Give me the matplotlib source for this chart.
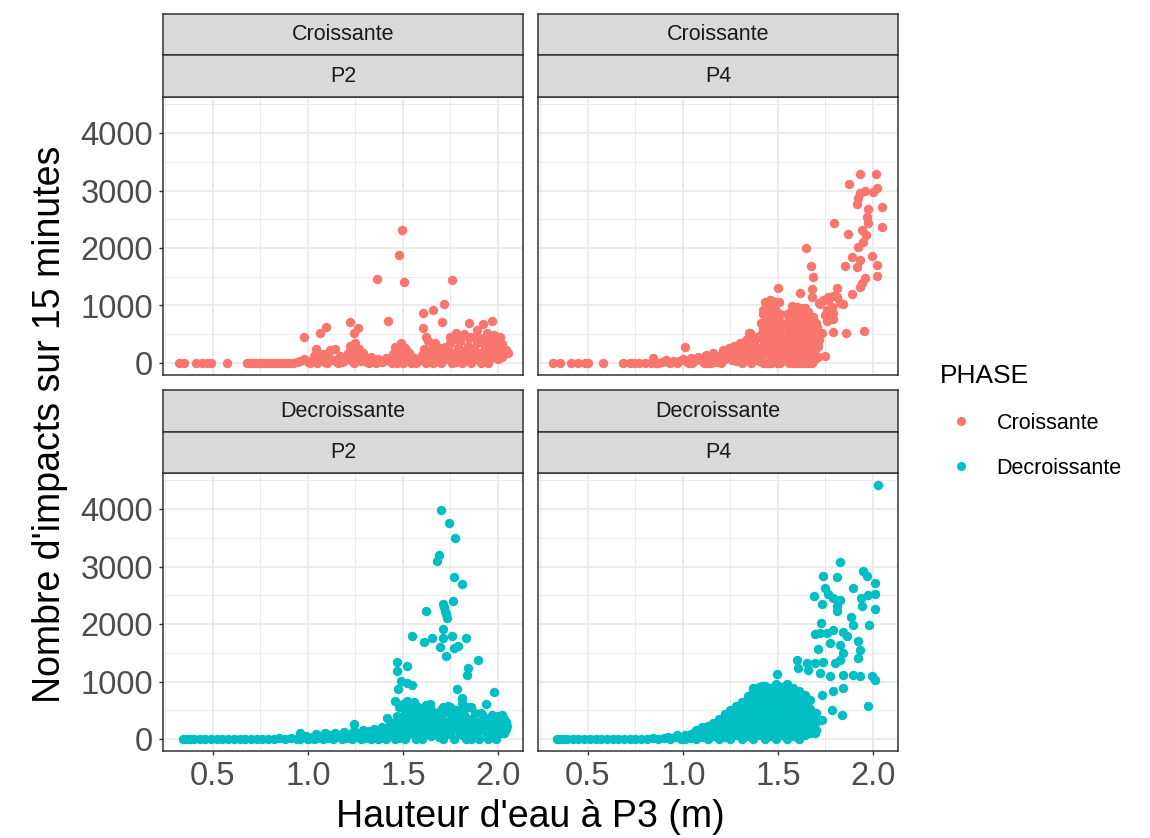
"""
Faceted scatter: number of impacts (15 min) vs water height at P3,
split by PHASE (Croissante / Decroissante) and station (P2 / P4).
Looks like a ggplot theme_bw facet_wrap, rebuilt with matplotlib.
"""

import matplotlib
matplotlib.use("Agg")
import matplotlib.pyplot as plt
from matplotlib.lines import Line2D

plt.rcParams['font.family'] = ['Liberation Sans', 'DejaVu Sans']

# ----------------------------------------------------------------
# Data: (water height m, impacts per 15 min)
# ----------------------------------------------------------------
crois_p2 = [
    (0.32, 0), (0.35, 0), (0.41, 0), (0.44, 0), (0.47, 0), (0.49, 0), (0.575, 0),
    (0.68, 0), (0.70, 0), (0.72, 0), (0.74, 0), (0.76, 0), (0.78, 0), (0.80, 0),
    (0.82, 0), (0.84, 0), (0.86, 0), (0.88, 0), (0.90, 0), (0.92, 0), (0.94, 10),
    (0.96, 30), (0.98, 70), (1.00, 15), (1.02, 50), (1.03, 120), (1.045, 250),
    (1.06, 60), (1.08, 150), (1.09, 20), (1.11, 90), (1.115, 230), (1.14, 250),
    (1.15, 40), (1.17, 120), (1.18, 10), (1.20, 80), (1.21, 180), (1.22, 300),
    (1.23, 30), (1.245, 200), (1.25, 340), (1.26, 120), (1.27, 250), (1.28, 40),
    (1.29, 180), (1.30, 70), (1.31, 20), (1.33, 100), (1.35, 30), (1.37, 60),
    (1.39, 10), (1.41, 90), (1.43, 40), (1.45, 150), (1.46, 280), (1.47, 60),
    (1.48, 200), (1.49, 20), (1.50, 120), (1.51, 260), (1.52, 50), (1.53, 180),
    (1.55, 20), (1.56, 90), (1.58, 30), (1.60, 130), (1.61, 250), (1.62, 60),
    (1.63, 380), (1.64, 180), (1.65, 20), (1.66, 300), (1.67, 100), (1.68, 220),
    (1.69, 40), (1.70, 150), (1.72, 280), (1.73, 60), (1.74, 200), (1.75, 350),
    (1.76, 120), (1.77, 420), (1.78, 20), (1.79, 260), (1.80, 380), (1.81, 100),
    (1.82, 200), (1.83, 50), (1.84, 300), (1.85, 440), (1.86, 150), (1.87, 250),
    (1.88, 60), (1.89, 340), (1.90, 430), (1.91, 180), (1.92, 100), (1.93, 280),
    (1.94, 380), (1.95, 220), (1.96, 60), (1.97, 320), (1.98, 160), (1.99, 400),
    (2.00, 250), (2.01, 100), (2.02, 330), (2.03, 180), (2.04, 220),
    (1.01, 0), (1.05, 0), (1.07, 100), (1.10, 0), (1.13, 50), (1.16, 0), (1.19, 30),
    (1.24, 0), (1.27, 80), (1.32, 0), (1.36, 0), (1.40, 40), (1.44, 0), (1.47, 0),
    (1.50, 0), (1.54, 0), (1.57, 0), (1.59, 60), (1.62, 0), (1.66, 0), (1.70, 0),
    (1.71, 80), (1.73, 180), (1.76, 0), (1.78, 150), (1.81, 0), (1.84, 100),
    (1.86, 0), (1.88, 200), (1.91, 0), (1.93, 120), (1.95, 0), (1.97, 150),
    (2.00, 60), (2.02, 100), (1.45, 50), (1.48, 100), (1.52, 200), (1.23, 120),
    (1.26, 230), (1.29, 60), (1.21, 60), (1.47, 240), (1.49, 300), (1.65, 200),
    (1.63, 120), (1.67, 350), (1.69, 260), (1.82, 500), (1.86, 450), (1.92, 420),
    (1.98, 480), (2.01, 450), (1.80, 230),
    (1.493, 2320), (1.481, 1880), (1.505, 1415), (1.361, 1465), (1.760, 1445),
    (1.716, 1025), (1.660, 920), (1.604, 865), (1.419, 735), (1.221, 720),
    (1.265, 615), (1.095, 620), (1.063, 525), (1.244, 515), (0.979, 455),
    (1.705, 710), (1.607, 615), (1.619, 455), (1.847, 690), (1.923, 680),
    (1.970, 735), (1.888, 575), (1.488, 345), (1.779, 515), (1.747, 455),
    (1.940, 515), (1.975, 455), (2.028, 225), (2.054, 175),
]

crois_p4 = [
    (0.316, 0), (0.351, 0), (0.412, 0), (0.447, 0), (0.483, 0), (0.500, 0), (0.579, 0),
    (0.684, 0), (0.719, 0), (0.74, 0), (0.77, 0), (0.80, 0), (0.83, 0), (0.842, 80),
    (0.86, 0), (0.89, 10), (0.92, 20), (0.95, 30), (0.98, 40), (1.00, 60), (1.009, 283),
    (1.02, 20), (1.04, 80), (1.06, 30), (1.08, 100), (1.10, 50), (1.12, 140),
    (1.14, 70), (1.16, 180), (1.18, 20), (1.19, 120), (1.21, 220), (1.22, 60),
    (1.24, 260), (1.25, 150), (1.27, 300), (1.28, 40), (1.29, 200), (1.30, 350),
    (1.31, 100), (1.32, 280), (1.33, 400), (1.34, 150), (1.35, 520), (1.36, 300),
    (1.37, 50), (1.38, 420), (1.39, 200), (1.40, 30), (1.353, 516), (1.361, 370),
    (1.15, 0), (1.20, 0), (1.23, 120), (1.26, 50), (1.28, 180), (1.31, 0),
    (1.33, 230), (1.35, 100), (1.36, 0), (1.38, 300), (1.39, 450), (1.37, 200),
    (1.34, 320), (1.30, 150), (1.26, 250), (1.22, 150), (1.13, 0), (1.17, 100),
    (1.11, 0), (1.07, 50), (1.03, 0), (1.05, 0), (0.97, 0), (0.93, 0), (0.91, 50),
    (0.87, 0),
    # left cluster
    (1.432, 1066), (1.458, 1096), (1.484, 1038), (1.423, 922), (1.467, 864),
    (1.502, 806), (1.440, 748), (1.493, 661), (1.458, 574), (1.511, 516),
    (1.414, 516), (1.475, 400), (1.423, 283), (1.493, 226), (1.405, 110),
    (1.458, 52), (1.44, 300), (1.47, 150), (1.50, 380), (1.41, 700), (1.45, 980),
    (1.49, 900), (1.52, 700), (1.51, 100), (1.43, 420), (1.48, 620), (1.505, 1066),
    (1.484, 1066),
    (1.42, 0), (1.42, 150), (1.42, 400), (1.42, 600), (1.42, 850),
    (1.45, 0), (1.45, 200), (1.45, 450), (1.45, 700), (1.45, 850),
    (1.48, 50), (1.48, 300), (1.48, 500), (1.48, 750), (1.48, 1000),
    (1.51, 0), (1.51, 250), (1.51, 600), (1.51, 850),
    (1.415, 250), (1.435, 550), (1.455, 350), (1.465, 750), (1.475, 950),
    (1.495, 450), (1.505, 200), (1.515, 350), (1.435, 0), (1.465, 0), (1.495, 0),
    (1.525, 150), (1.525, 450), (1.47, 1080), (1.44, 1040),
    # right cluster
    (1.598, 980), (1.633, 951), (1.660, 893), (1.686, 806), (1.616, 806),
    (1.581, 748), (1.651, 690), (1.686, 632), (1.554, 632), (1.607, 574),
    (1.660, 516), (1.563, 457), (1.633, 400), (1.686, 370), (1.581, 283),
    (1.651, 255), (1.546, 168), (1.616, 110), (1.668, 82), (1.572, 23),
    (1.642, 0), (1.53, 300), (1.54, 80), (1.60, 450), (1.62, 200), (1.64, 700),
    (1.70, 500), (1.57, 880),
    (1.56, 0), (1.56, 300), (1.56, 550), (1.56, 750),
    (1.59, 100), (1.59, 350), (1.59, 600), (1.59, 850),
    (1.62, 0), (1.62, 300), (1.62, 650), (1.62, 900),
    (1.65, 100), (1.65, 400), (1.65, 600), (1.65, 800),
    (1.68, 0), (1.68, 250), (1.68, 500), (1.68, 700),
    (1.71, 100), (1.71, 300),
    (1.555, 400), (1.565, 150), (1.575, 650), (1.585, 500), (1.595, 200),
    (1.605, 700), (1.615, 400), (1.625, 550), (1.635, 150), (1.635, 800),
    (1.645, 450), (1.655, 350), (1.665, 650), (1.675, 450), (1.685, 150),
    (1.695, 250), (1.70, 700), (1.61, 950), (1.645, 950), (1.58, 0), (1.60, 0),
    (1.66, 0), (1.69, 50), (1.55, 850),
    # scattered high values
    (1.604, 12), (1.747, 127), (1.791, 544), (1.856, 516), (1.953, 556),
    (1.791, 759), (1.756, 730), (1.717, 1038), (1.765, 1096), (1.809, 1299),
    (1.844, 1026), (1.809, 1153), (1.888, 1200), (1.932, 1327), (1.958, 1473),
    (1.940, 1386), (2.019, 1513), (2.023, 1704), (1.993, 1861), (1.891, 1849),
    (1.914, 1675), (1.853, 1692), (1.932, 1791), (1.923, 2023), (1.949, 2110),
    (1.962, 2226), (1.867, 2238), (1.940, 2313), (1.975, 2429), (1.967, 2545),
    (1.975, 2673), (1.914, 2760), (1.923, 2864), (1.932, 2951), (1.958, 2997),
    (2.002, 2980), (2.019, 3038), (2.046, 2708), (2.046, 2371), (1.796, 2440),
    (1.874, 3113), (1.932, 3287), (2.016, 3287), (1.502, 1310), (1.616, 1223),
    (1.572, 997), (1.646, 2005), (1.674, 1687), (1.686, 1501), (1.677, 1287),
    (1.677, 1153), (1.721, 1026), (1.738, 1096), (1.765, 1153), (1.791, 1165),
    (1.826, 1038), (1.756, 922), (1.782, 980), (1.747, 835), (1.791, 864),
    (1.717, 400), (1.730, 516), (1.704, 632), (1.704, 283), (1.677, 168),
]

decr_p2 = [
    (0.34, 0), (0.36, 0), (0.38, 0), (0.40, 0), (0.43, 0), (0.46, 0), (0.49, 0),
    (0.52, 0), (0.55, 0), (0.58, 0), (0.61, 0), (0.64, 0), (0.67, 0), (0.70, 0),
    (0.73, 0), (0.76, 0), (0.79, 0), (0.82, 0), (0.85, 10), (0.88, 0), (0.91, 20),
    (0.94, 0), (0.956, 100), (0.97, 30), (1.00, 0), (1.02, 40), (1.05, 10),
    (1.07, 50), (1.10, 20), (1.12, 60), (1.15, 30), (1.17, 70), (1.20, 10),
    (1.22, 90), (1.240, 262), (1.25, 40), (1.27, 110), (1.30, 20), (1.32, 130),
    (1.34, 60), (1.36, 160), (1.38, 20), (1.40, 100), (1.414, 361), (1.42, 200),
    (1.44, 50), (1.45, 250), (1.46, 130), (1.47, 400), (1.48, 20), (1.49, 300),
    (1.50, 150), (1.51, 450), (1.52, 60), (1.53, 250), (1.54, 380), (1.55, 100),
    (1.56, 520), (1.57, 200), (1.58, 30), (1.59, 350), (1.60, 150), (1.61, 450),
    (1.62, 80), (1.63, 250), (1.64, 600), (1.65, 350), (1.66, 120), (1.67, 450),
    (1.68, 250), (1.69, 30), (1.70, 380), (1.71, 550), (1.72, 150), (1.73, 300),
    (1.74, 450), (1.75, 80), (1.76, 250), (1.77, 380), (1.78, 500), (1.79, 150),
    (1.80, 300), (1.81, 60), (1.82, 420), (1.83, 230), (1.84, 550), (1.85, 100),
    (1.86, 350), (1.87, 200), (1.88, 450), (1.89, 60), (1.90, 300), (1.91, 150),
    (1.92, 400), (1.93, 250), (1.94, 80), (1.95, 330), (1.96, 180), (1.97, 420),
    (1.98, 100), (1.99, 280), (2.00, 200), (2.01, 350), (2.02, 150), (2.03, 250),
    (2.04, 180), (2.05, 230),
    (0.96, 0), (0.99, 50), (1.03, 0), (1.04, 80), (1.08, 0), (1.09, 100), (1.13, 0),
    (1.14, 110), (1.18, 0), (1.19, 120), (1.23, 0), (1.24, 140), (1.28, 0),
    (1.29, 160), (1.33, 0), (1.35, 180), (1.37, 0), (1.39, 200), (1.41, 0),
    (1.43, 150), (1.44, 280),
    (1.46, 0), (1.47, 200), (1.49, 100), (1.51, 0), (1.52, 300), (1.54, 150),
    (1.55, 250), (1.57, 0), (1.58, 300), (1.60, 0), (1.62, 200), (1.63, 450),
    (1.65, 50), (1.66, 250), (1.68, 100), (1.69, 400), (1.71, 0), (1.72, 300),
    (1.74, 150), (1.75, 300), (1.77, 0), (1.78, 200), (1.80, 100), (1.81, 350),
    (1.83, 0), (1.84, 150), (1.86, 0), (1.87, 350), (1.89, 250), (1.90, 0),
    (1.92, 150), (1.93, 350), (1.95, 0), (1.96, 300), (1.98, 200), (1.99, 0),
    (2.01, 100), (2.03, 350), (2.04, 300), (1.49, 550), (1.52, 500), (1.56, 650),
    (1.60, 500), (1.66, 450), (1.73, 500), (1.80, 500), (1.86, 550), (1.91, 450),
    (1.97, 280), (2.02, 420), (1.58, 450), (1.63, 350),
    (1.47, 300), (1.50, 380), (1.53, 100), (1.56, 350), (1.59, 100), (1.61, 300),
    (1.64, 150), (1.67, 300), (1.70, 200), (1.73, 100), (1.76, 400), (1.79, 350),
    (1.82, 250), (1.85, 300), (1.88, 300), (1.91, 300), (1.94, 250), (1.97, 50),
    (2.00, 400), (2.03, 100), (1.65, 500), (1.70, 500), (1.75, 550), (1.62, 400),
    (1.458, 652), (1.523, 652), (1.48, 550), (1.50, 600), (1.53, 560), (1.55, 480),
    (1.57, 400), (1.60, 300), (1.62, 594), (1.58, 550),
    (1.700, 3983), (1.742, 3767), (1.774, 3505), (1.688, 3197), (1.681, 3098),
    (1.768, 2818), (1.812, 2690), (1.619, 2236), (1.709, 2353), (1.765, 2399),
    (1.721, 2224), (1.730, 2108), (1.715, 2300), (1.725, 2170), (1.712, 1916),
    (1.546, 1787), (1.611, 1689), (1.654, 1759), (1.712, 1759), (1.756, 1799),
    (1.830, 1759), (1.695, 1602), (1.726, 1438), (1.768, 1584), (1.791, 1624),
    (1.896, 1368), (1.470, 1333), (1.523, 1263), (1.467, 1176), (1.844, 1231),
    (1.835, 1118), (1.488, 1001), (1.519, 973), (1.546, 943), (1.475, 868),
    (1.786, 868), (1.981, 816), (1.937, 611), (1.809, 711), (1.738, 582),
    (1.809, 623),
]

decr_p4 = [
    (0.335, 0), (0.35, 0), (0.37, 0), (0.39, 0), (0.42, 0), (0.45, 0), (0.48, 0),
    (0.51, 0), (0.54, 0), (0.57, 0), (0.60, 0), (0.63, 0), (0.66, 0), (0.69, 0),
    (0.72, 0), (0.75, 0), (0.78, 0), (0.81, 0), (0.84, 10), (0.87, 0), (0.90, 20),
    (0.93, 0), (0.96, 30), (0.99, 0), (0.92, 40), (0.97, 60),
    # dense wedge between 1.0 and 1.7 m
    (1.01, 0), (1.01, 60), (1.04, 20), (1.04, 90),
    (1.07, 0), (1.07, 80), (1.07, 150),
    (1.10, 30), (1.10, 130), (1.10, 200),
    (1.13, 0), (1.13, 110), (1.13, 230),
    (1.16, 50), (1.16, 170), (1.16, 280),
    (1.19, 0), (1.19, 120), (1.19, 250), (1.19, 350),
    (1.22, 40), (1.22, 180), (1.22, 320), (1.22, 440),
    (1.25, 0), (1.25, 130), (1.25, 270), (1.25, 400), (1.25, 500),
    (1.28, 60), (1.28, 200), (1.28, 340), (1.28, 480), (1.28, 580),
    (1.31, 0), (1.31, 140), (1.31, 280), (1.31, 420), (1.31, 560), (1.31, 650),
    (1.34, 50), (1.34, 190), (1.34, 330), (1.34, 470), (1.34, 610), (1.34, 750),
    (1.37, 0), (1.37, 130), (1.37, 270), (1.37, 410), (1.37, 550), (1.37, 690), (1.37, 850),
    (1.40, 60), (1.40, 200), (1.40, 340), (1.40, 480), (1.40, 620), (1.40, 760), (1.40, 900),
    (1.43, 0), (1.43, 140), (1.43, 280), (1.43, 420), (1.43, 560), (1.43, 700), (1.43, 840),
    (1.43, 930),
    (1.46, 50), (1.46, 190), (1.46, 330), (1.46, 470), (1.46, 610), (1.46, 750), (1.46, 880),
    (1.49, 0), (1.49, 130), (1.49, 270), (1.49, 410), (1.49, 550), (1.49, 690), (1.49, 830),
    (1.49, 960),
    (1.52, 60), (1.52, 200), (1.52, 340), (1.52, 480), (1.52, 620), (1.52, 760), (1.52, 900),
    (1.55, 0), (1.55, 140), (1.55, 280), (1.55, 420), (1.55, 560), (1.55, 700), (1.55, 840),
    (1.55, 950),
    (1.58, 50), (1.58, 190), (1.58, 330), (1.58, 470), (1.58, 610), (1.58, 750), (1.58, 880),
    (1.61, 0), (1.61, 130), (1.61, 270), (1.61, 410), (1.61, 550), (1.61, 690), (1.61, 830),
    (1.64, 60), (1.64, 200), (1.64, 340), (1.64, 480), (1.64, 620), (1.64, 760),
    (1.67, 100), (1.67, 240), (1.67, 380), (1.67, 520), (1.67, 680),
    (1.70, 150), (1.70, 300), (1.70, 450),
    (1.493, 1135),
    # scattered high values
    (2.025, 4425), (1.826, 3086), (1.735, 2835), (1.809, 2818), (1.946, 2922),
    (1.967, 2835), (2.011, 2720), (1.896, 2632), (1.747, 2632), (1.765, 2515),
    (1.689, 2486), (1.791, 2457), (1.826, 2416), (1.809, 2311), (1.730, 2341),
    (1.809, 2224), (1.937, 2457), (1.975, 2498), (2.011, 2527), (1.940, 2323),
    (2.011, 2265), (1.883, 2119), (1.896, 1991), (1.979, 1991), (1.726, 2021),
    (1.721, 1845), (1.695, 1828), (1.756, 1845), (1.791, 1904), (1.844, 1857),
    (1.861, 1787), (1.774, 1671), (1.826, 1642), (1.923, 1700), (1.712, 1572),
    (1.844, 1497), (1.932, 1555), (1.923, 1410), (1.598, 1380), (1.651, 1322),
    (1.695, 1322), (1.739, 1333), (1.800, 1322), (1.826, 1380), (1.607, 1235),
    (1.660, 1205), (1.721, 1147), (1.774, 1088), (1.844, 1118), (1.896, 1118),
    (1.932, 1088), (1.993, 1088), (2.011, 1031), (1.791, 827), (1.844, 885),
    (1.730, 769), (1.975, 565), (1.783, 507), (1.835, 419), (1.730, 332),
    (1.695, 100), (1.370, 885), (1.414, 914), (1.283, 565),
]

x_ticks = [0.5, 1.0, 1.5, 2.0]
x_tick_labels = ["0.5", "1.0", "1.5", "2.0"]
y_ticks = [0, 1000, 2000, 3000, 4000]
y_tick_labels = ["0", "1000", "2000", "3000", "4000"]

phases = ["Croissante", "Decroissante"]
stations = ["P2", "P4"]
colors = {"Croissante": "#F8766D", "Decroissante": "#00BFC4"}

# ----------------------------------------------------------------
# Figure and layout (pixel boxes turned into figure fractions)
# ----------------------------------------------------------------
W, H = 1150, 838
fig = plt.figure(figsize=(W / 100, H / 100), dpi=100)


def box(x0, y0, x1, y1):
    """pixel box (top-left origin) -> [left, bottom, width, height]"""
    return [x0 / W, 1 - y1 / H, (x1 - x0) / W, (y1 - y0) / H]


col_x = [(163, 523), (538, 898)]
row_y = [(14, 55, 97, 375), (390, 432, 473, 751)]   # strip1 top, strip2 top, panel top, panel bottom

data = {
    ("Croissante", "P2"): crois_p2,
    ("Croissante", "P4"): crois_p4,
    ("Decroissante", "P2"): decr_p2,
    ("Decroissante", "P4"): decr_p4,
}

BORDER = "#333333"
GRID = "#EBEBEB"

for r, phase in enumerate(phases):
    s1, s2, ptop, pbot = row_y[r]
    for c, station in enumerate(stations):
        x0, x1 = col_x[c]

        # --- the panel itself
        ax = fig.add_axes(box(x0, ptop, x1, pbot))
        xs, ys = zip(*data[(phase, station)])
        ax.scatter(xs, ys, s=46, color=colors[phase], linewidths=0, zorder=3)

        ax.set_xlim(0.237, 2.132)
        ax.set_ylim(-210, 4630)
        ax.set_xticks(x_ticks)
        ax.set_yticks(y_ticks)
        ax.set_xticks([0.25, 0.75, 1.25, 1.75], minor=True)
        ax.set_yticks([500, 1500, 2500, 3500, 4500], minor=True)
        ax.grid(True, which="major", color=GRID, linewidth=1.3, zorder=0)
        ax.grid(True, which="minor", color=GRID, linewidth=0.7, zorder=0)
        ax.set_axisbelow(True)
        for sp in ax.spines.values():
            sp.set_color(BORDER)
            sp.set_linewidth(1.1)

        ax.tick_params(which="minor", length=0)
        ax.tick_params(which="major", length=3, width=1, color=BORDER,
                       labelsize=23.5, labelcolor="#4D4D4D", pad=4)
        if r == 1:
            ax.set_xticklabels(x_tick_labels)
        else:
            ax.tick_params(axis="x", which="major", length=0, labelbottom=False)
        if c == 0:
            ax.set_yticklabels(y_tick_labels)
        else:
            ax.tick_params(axis="y", which="major", length=0, labelleft=False)

        # --- the two strips on top (phase, then station)
        for top, bottom, label in [(s1, s2, phase), (s2, ptop, station)]:
            st = fig.add_axes(box(x0, top, x1, bottom))
            st.set_facecolor("#D9D9D9")
            st.set_xticks([])
            st.set_yticks([])
            for sp in st.spines.values():
                sp.set_color(BORDER)
                sp.set_linewidth(1.1)
            st.text(0.5, 0.5, label, ha="center", va="center",
                    fontsize=15.5, color="#1A1A1A", transform=st.transAxes)

# ----------------------------------------------------------------
# Axis titles and legend
# ----------------------------------------------------------------
fig.text(530.5 / W, 1 - 817 / H, "Hauteur d'eau à P3 (m)",
         ha="center", va="center", fontsize=27, color="black")
fig.text(50 / W, 1 - 424 / H, "Nombre d'impacts sur 15 minutes",
         ha="center", va="center", rotation=90, fontsize=27, color="black")

handles = [Line2D([], [], linestyle="none", marker="o", markersize=6.5,
                  markerfacecolor=colors[p], markeredgewidth=0) for p in phases]
leg = fig.legend(handles, phases, title="PHASE", loc="upper left",
                 bbox_to_anchor=(920 / W, 1 - 345 / H), frameon=False,
                 fontsize=15.5, title_fontsize=19, handletextpad=0.6,
                 labelspacing=1.13, alignment="left", handlelength=2.05)

fig.savefig("out.png", dpi=100)
